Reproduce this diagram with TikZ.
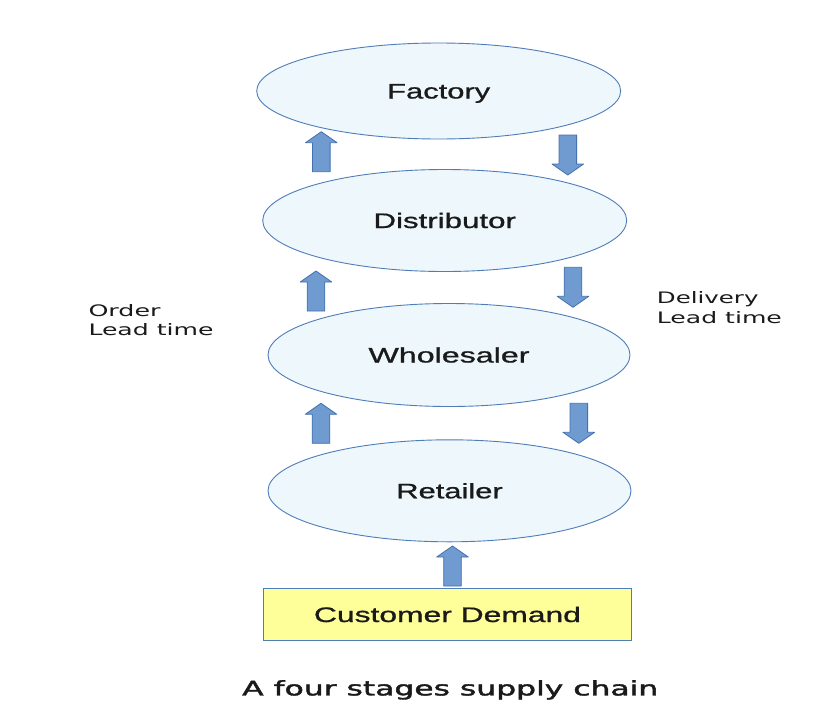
\documentclass[tikz,border=0pt]{standalone}
\usepackage{fontspec}
\usepackage{graphicx}
\usetikzlibrary{shapes.geometric}
\newfontfamily\nodefont[FakeBold=0.8]{Liberation Sans}
\newfontfamily\labfont{DejaVu Sans}
\newfontfamily\capfont[FakeBold=1.6]{DejaVu Sans}
\newcommand{\fitw}[2]{\resizebox{#1pt}{\height}{#2}}
\definecolor{ellfill}{HTML}{EEF7FB}
\definecolor{elldraw}{HTML}{4F7DBA}
\definecolor{boxfill}{HTML}{FFFF99}
\definecolor{arrfill}{HTML}{6F9BD1}
\definecolor{arrdraw}{HTML}{4470AE}
\definecolor{txt}{HTML}{1A1A1A}
\begin{document}
\begin{tikzpicture}[x=1pt,y=-1pt,
  stage/.style={ellipse, draw=elldraw, fill=ellfill, line width=0.9pt, inner sep=0pt, text=txt,
    font=\nodefont\fontsize{21}{25}\selectfont, text height=15pt, text depth=0pt},
  demand/.style={rectangle, draw=elldraw, fill=boxfill, line width=0.9pt, inner sep=0pt, text=txt,
    font=\nodefont\fontsize{21}{25}\selectfont, text height=15pt, text depth=0pt},
  lab/.style={inner sep=0pt, anchor=base west, text=txt, font=\labfont\fontsize{15.8}{19}\selectfont},
  blockarrow/.style={fill=arrfill, draw=arrdraw, line width=0.8pt, line join=round},
  uparr/.pic={\draw[blockarrow] (0,0) -- (15.8,11) -- (8.8,11) -- (8.8,40) -- (-8.8,40) -- (-8.8,11) -- (-15.8,11) -- cycle;},
  downarr/.pic={\draw[blockarrow] (0,0) -- (15.8,-11) -- (8.8,-11) -- (8.8,-40) -- (-8.8,-40) -- (-8.8,-11) -- (-15.8,-11) -- cycle;}
]
\useasboundingbox[fill=white] (0,0) rectangle (837,715);

\node[stage, minimum width=364pt, minimum height=96pt] (fac) at (438.7,91) {\fitw{103}{Factory}};
\node[stage, minimum width=364pt, minimum height=102pt] (dist) at (444.7,220.5) {\fitw{142.5}{Distributor}};
\node[stage, minimum width=362pt, minimum height=103pt] (whole) at (449,355) {\fitw{161}{Wholesaler}};
\node[stage, minimum width=363pt, minimum height=102pt] (ret) at (449.5,490.8) {\fitw{106.5}{Retailer}};
\node[demand, minimum width=368.4pt, minimum height=52.4pt] (cust) at (447.5,614.5) {\fitw{267}{Customer Demand}};

% order flow (up)
\pic at (321.3,131.7) {uparr};
\pic at (316,271) {uparr};
\pic at (321,403.3) {uparr};
\pic at (452.5,546) {uparr};
% delivery flow (down)
\pic at (567.8,175) {downarr};
\pic at (573,307.3) {downarr};
\pic at (578.8,443.3) {downarr};

\node[lab] (ord1) at (88.3,316) {\fitw{72}{Order}};
\node[lab] (ord2) at (88.3,335) {\fitw{125}{Lead time}};
\node[lab] (del1) at (656.7,303.3) {\fitw{101.6}{Delivery}};
\node[lab] (del2) at (656.7,323.3) {\fitw{125}{Lead time}};

\node[inner sep=0pt, anchor=base west, text=txt, font=\capfont\fontsize{20}{24}\selectfont] (cap) at (242,695.4) {\fitw{416}{A four stages supply chain}};
\end{tikzpicture}
\end{document}
